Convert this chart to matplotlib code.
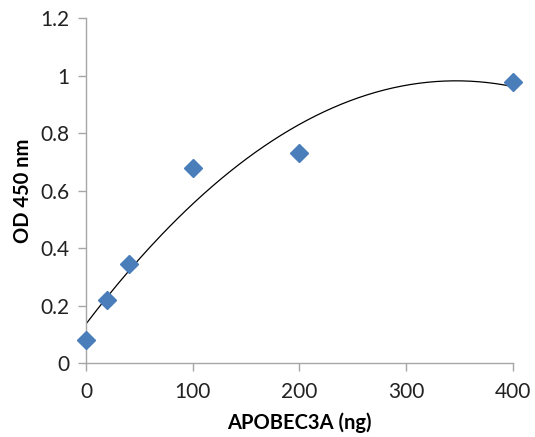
import matplotlib
matplotlib.use('Agg')
import matplotlib.pyplot as plt
import numpy as np

# APOBEC3A amount (ng) vs OD 450 nm
dose = [0, 20, 40, 100, 200, 400]
od450 = [0.08, 0.22, 0.345, 0.68, 0.73, 0.98]

xticks = [0, 100, 200, 300, 400]
yticks = [0, 0.2, 0.4, 0.6, 0.8, 1, 1.2]
ytick_labels = ['0', '0.2', '0.4', '0.6', '0.8', '1', '1.2']

plt.rcParams['font.family'] = ['Lato', 'DejaVu Sans']

fig = plt.figure(figsize=(5.35, 4.37), dpi=100)
ax = fig.add_axes([0.1607, 0.1693, 0.7982, 0.7884])

# 2nd order polynomial trendline (like Excel)
coef = np.polyfit(dose, od450, 2)
xs = np.linspace(0, 400, 200)
ax.plot(xs, np.polyval(coef, xs), color='black', lw=0.9, zorder=2)

ax.plot(dose, od450, linestyle='none', marker='D', ms=9,
        color='#4a7ebb', mec='#4a7ebb', zorder=3, clip_on=False)

ax.set_xlim(0, 400)
ax.set_ylim(0, 1.2)
ax.set_xticks(xticks)
ax.set_yticks(yticks)
ax.set_yticklabels(ytick_labels)

for side in ['top', 'right']:
    ax.spines[side].set_visible(False)
for side in ['left', 'bottom']:
    ax.spines[side].set_color('#a6a6a6')
    ax.spines[side].set_linewidth(1)

ax.tick_params(axis='both', color='#a6a6a6', length=6, width=1,
               labelsize=15, labelcolor='#222222', direction='out')
ax.tick_params(axis='x', pad=8)
ax.tick_params(axis='y', pad=6)

ax.set_xlabel('APOBEC3A (ng)', fontsize=14.5, fontweight='bold', labelpad=7)
ax.set_ylabel('OD 450 nm', fontsize=14.5, fontweight='bold', labelpad=5)

fig.savefig('out.png', dpi=100)
